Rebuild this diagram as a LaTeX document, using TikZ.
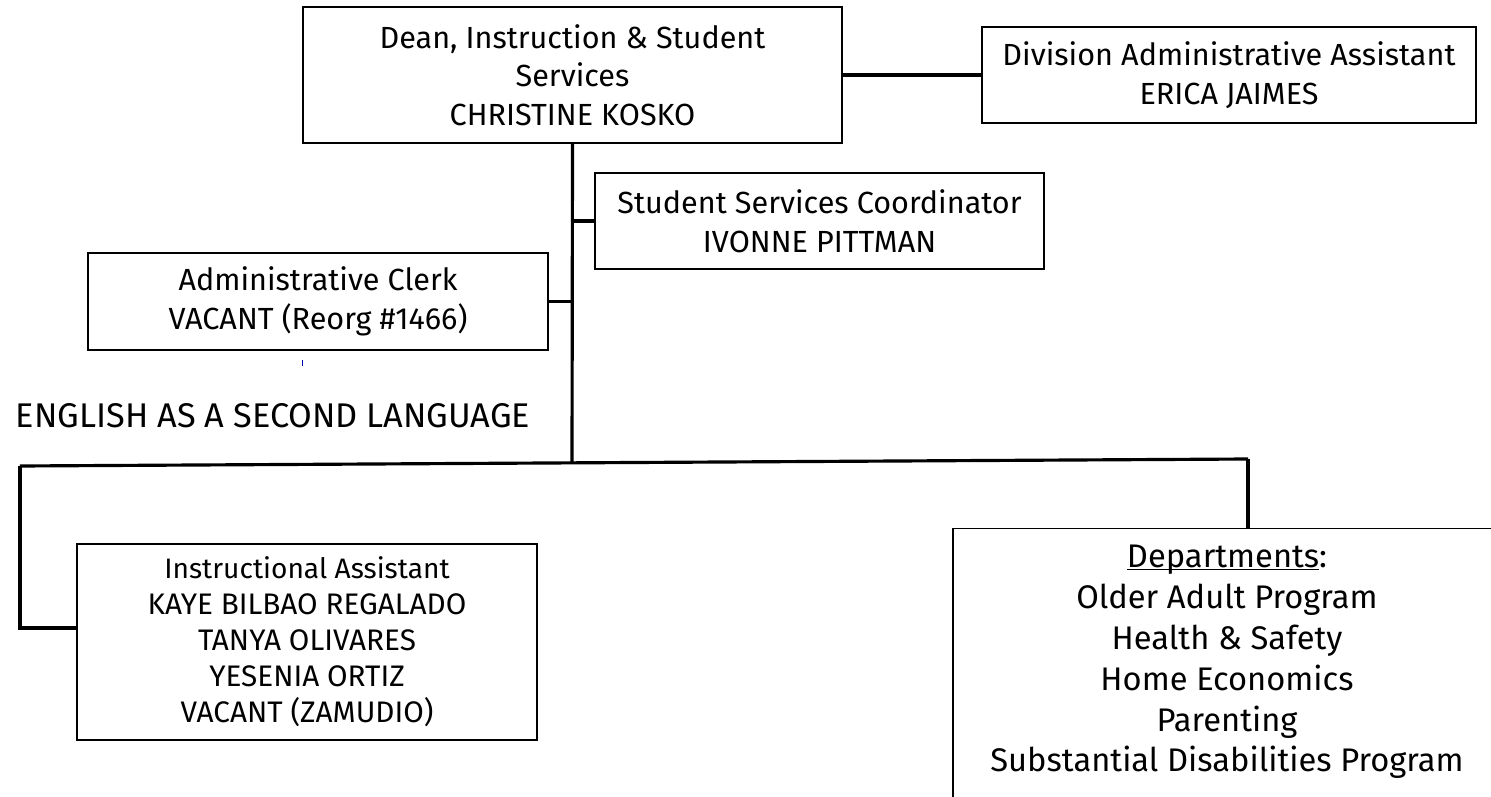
\documentclass[tikz,border=0pt]{standalone}
\usepackage{fontspec}
\setmainfont{Fira Sans}

\begin{document}
\begin{tikzpicture}[
  box/.style={draw, line width=0.8pt, inner sep=0pt, align=center,
    font=\fontsize{17.4}{22}\selectfont},
  link/.style={line width=1.8pt}
]
  \clip (0,0) rectangle (29.82,-15.94);

  \node [box, minimum width=10.78cm, minimum height=2.72cm] (dean) at (11.45,-1.5)
    {Dean, Instruction \& Student\\ Services\\ CHRISTINE KOSKO};
  \node [box, minimum width=9.88cm, minimum height=1.92cm] (div) at (24.58,-1.5)
    {Division Administrative Assistant\\ ERICA JAIMES};
  \node [box, minimum width=8.98cm, minimum height=1.92cm] (coord) at (16.39,-4.42)
    {Student Services Coordinator\\ IVONNE PITTMAN};
  \node [box, minimum width=9.2cm, minimum height=1.94cm] (clerk) at (6.36,-6.03)
    {Administrative Clerk\\ VACANT (Reorg \#1466)};

  \draw [blue!70!black, line width=0.5pt] (6.04,-7.2) -- (6.04,-7.32);

  \node [font=\fontsize{19.5}{22}\selectfont] (esl) at (5.46,-8.32)
    {ENGLISH AS A SECOND LANGUAGE};

  \node [box, minimum width=9.2cm, minimum height=3.92cm,
    font=\fontsize{16.9}{20.5}\selectfont] (instr) at (6.14,-12.84)
    {{\fontsize{16}{20.5}\selectfont Instructional Assistant}\\
     KAYE BILBAO REGALADO\\ TANYA OLIVARES\\ YESENIA ORTIZ\\ VACANT (ZAMUDIO)};
  \node [box, anchor=north, minimum width=10.96cm, inner ysep=0.32cm,
    text depth=1.1cm, font=\fontsize{18.6}{23.3}\selectfont] (dept) at (24.54,-10.56)
    {\underbar{Departments}:\\ Older Adult Program\\ Health \& Safety\\
     Home Economics\\ Parenting\\ Substantial Disabilities Program};

  \coordinate (barL) at (0.4,-9.32);
  \coordinate (barR) at (24.96,-9.18);
  \coordinate (elbow) at (0.4,-12.56);

  \draw [link] (dean.east) -- (div.west);
  \draw [link] (dean.south) -- (11.44,-9.26);
  \draw [link] (coord.west -| dean.south) -- (coord.west);
  \draw [link] (clerk.east) -- (clerk.east -| dean.south);
  \draw [link] (barL) -- (barR);
  \draw [link] (barL) -- (elbow) -- (elbow -| instr.west);
  \draw [link] (barR) -- (barR |- dept.north);
\end{tikzpicture}
\end{document}
